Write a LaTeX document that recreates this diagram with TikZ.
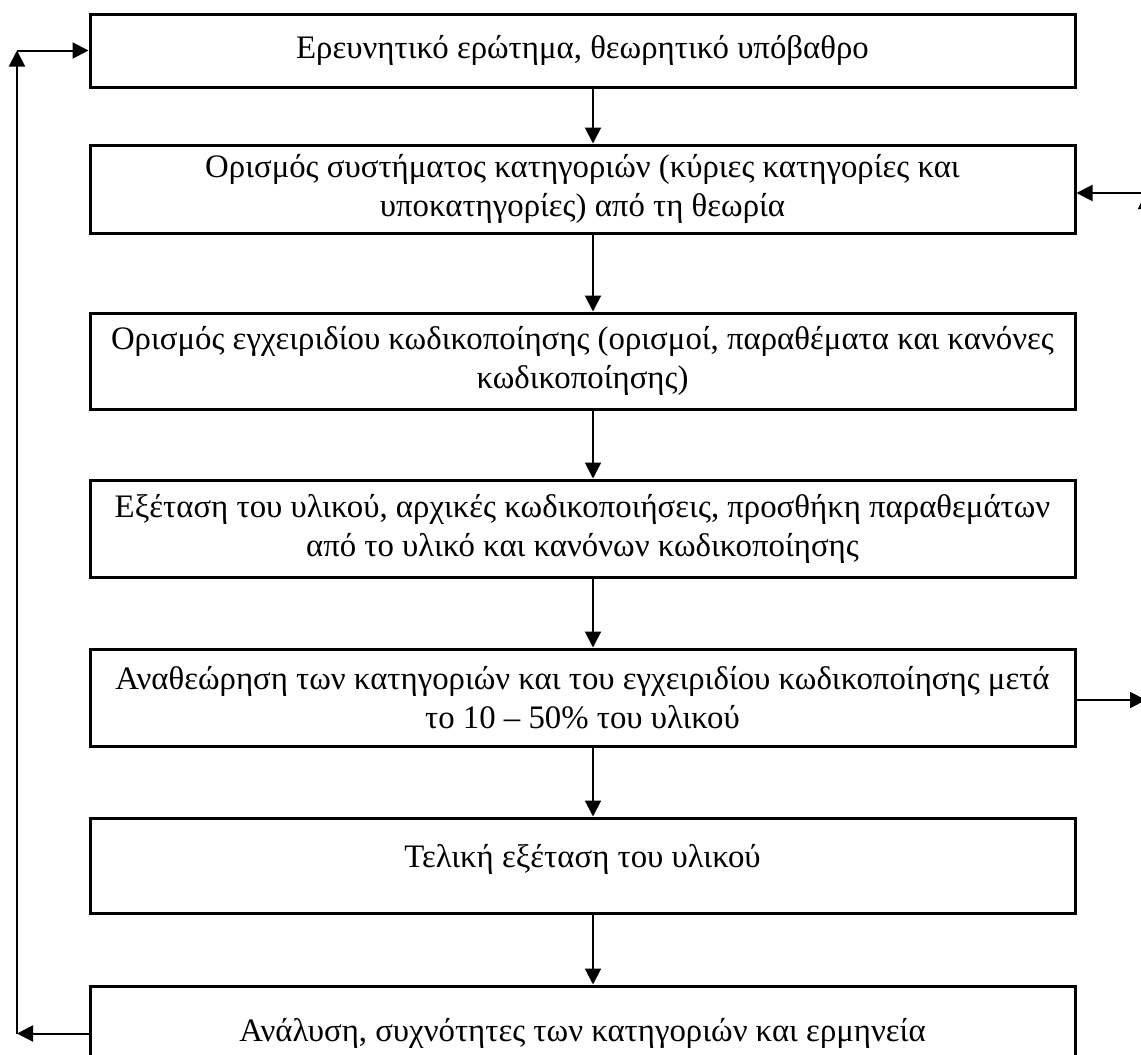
\documentclass[tikz,border=0pt]{standalone}
\usepackage{fontspec}
\setmainfont{Liberation Serif}
\usetikzlibrary{positioning,arrows.meta}

\tikzset{
  box/.style={draw, line width=1.5pt, minimum width=492.5pt, inner sep=0pt,
    align=center, font=\fontsize{16.4}{19.5}\selectfont},
  arr/.style={line width=1pt, -{Triangle[length=8pt,width=8pt]}}
}

\begin{document}
\begin{tikzpicture}[x=0.5pt,y=-0.5pt]
        \useasboundingbox (0,0) rectangle (1141,1055);
        % boxes
        \node[box, minimum height=36.5pt] (question) at (582.5,50.5)
            {Ερευνητικό ερώτημα, θεωρητικό υπόβαθρο};
        \node[box, minimum height=44pt] (categories) at (582.5,189)
            {Ορισμός συστήματος κατηγοριών (κύριες κατηγορίες και\\
             υποκατηγορίες) από τη θεωρία};
        \node[box, minimum height=48pt] (guide) at (582.5,361)
            {Ορισμός εγχειριδίου κωδικοποίησης (ορισμοί, παραθέματα και κανόνες\\
             κωδικοποίησης)};
        \node[box, minimum height=48.5pt] (coding) at (582.5,528.5)
            {Εξέταση του υλικού, αρχικές κωδικοποιήσεις, προσθήκη παραθεμάτων\\
             από το υλικό και κανόνων κωδικοποίησης};
        \node[box, minimum height=48.5pt] (revision) at (582.5,697.5)
            {Αναθεώρηση των κατηγοριών και του εγχειριδίου κωδικοποίησης μετά\\
             το 10 – 50\% του υλικού};
        \node[box, minimum height=47.5pt, text depth=10pt] (final) at (582.5,865.5)
            {Τελική εξέταση του υλικού};
        \node[box, minimum height=47.5pt] (analysis) at (582.5,1033.5)
            {Ανάλυση, συχνότητες των κατηγοριών και ερμηνεία};
        % arrows down
        \foreach \a/\b in {question/categories, categories/guide, guide/coding,
            coding/revision, revision/final, final/analysis}
        \draw[arr] ([xshift=5.25pt]\a.south) -- ([xshift=5.25pt]\b.north);
        % loop on the left
        \coordinate (leftlow) at (17,1033.5);
        \coordinate (lefttop) at (17,50.5);
        \draw[arr] (analysis.west) -- (leftlow);
        \draw[arr] (leftlow) -- (lefttop);
        \draw[arr] (lefttop) -- (question.west);
        % loop on the right
        \coordinate (rightlow) at (1146,700);
        \coordinate (righttop) at (1146,193);
        \draw[arr] (revision.east |- rightlow) -- (rightlow);
        \draw[arr] (rightlow) -- (righttop);
        \draw[arr] (righttop) -- (categories.east |- righttop);
    \end{tikzpicture}
\end{document}
